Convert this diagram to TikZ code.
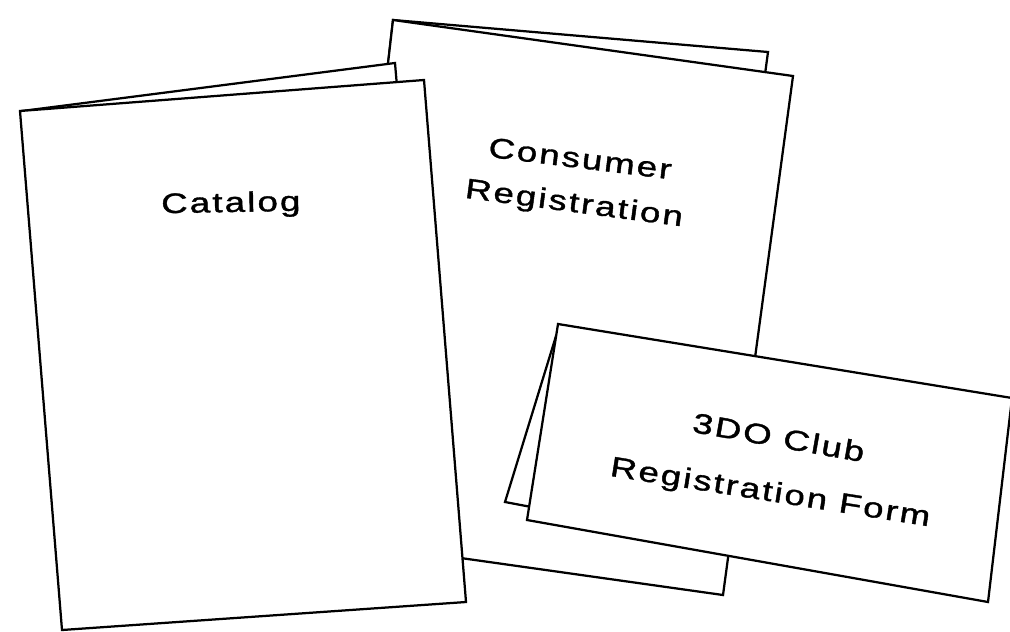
\documentclass[tikz,border=0pt]{standalone}
\usepackage{fontspec}
\setmainfont{Liberation Sans}[LetterSpace=6, FakeBold=1.2]
\begin{document}
\begin{tikzpicture}[x=0.025cm, y=-0.025cm,
    sheet/.style={draw, fill=white, line width=1.6pt, line join=miter},
    caption/.style={anchor=base, inner sep=0pt, font=\fontsize{20}{24}\selectfont}]
    \useasboundingbox (0,0) rectangle (1010,631);
    \fill [white] (0,0) rectangle (1010,631);
    \draw [sheet] (393,20) -- (768,52) -- (700,556) -- (336,528) -- cycle;
    \draw [sheet] (393,20) -- (793,76) -- (723,595) -- (333,540) -- cycle;
    \draw [sheet] (22,111) -- (395,63) -- (440,596) -- (66,622) -- cycle;
    \draw [sheet] (20,111) -- (424,80) -- (466,602) -- (62,630) -- cycle;
    \draw [sheet] (556,336) -- (1000,404) -- (980,592) -- (505,502) -- cycle;
    \draw [sheet] (558,324) -- (1012,398) -- (988,602) -- (527,520) -- cycle;
    \node [caption, rotate=1, xscale=1.3] (catalog) at (231,212) {Catalog};
    \node [caption, rotate=-7, xscale=1.3] (consumer) at (579,168) {Consumer};
    \node [caption, rotate=-7.5, xscale=1.3] (registration) at (573,212) {Registration};
    \node [caption, rotate=-10, xscale=1.3] (club) at (777,447) {3DO Club};
    \node [caption, rotate=-9, xscale=1.3] (form) at (769,501) {Registration Form};
\end{tikzpicture}
\end{document}
